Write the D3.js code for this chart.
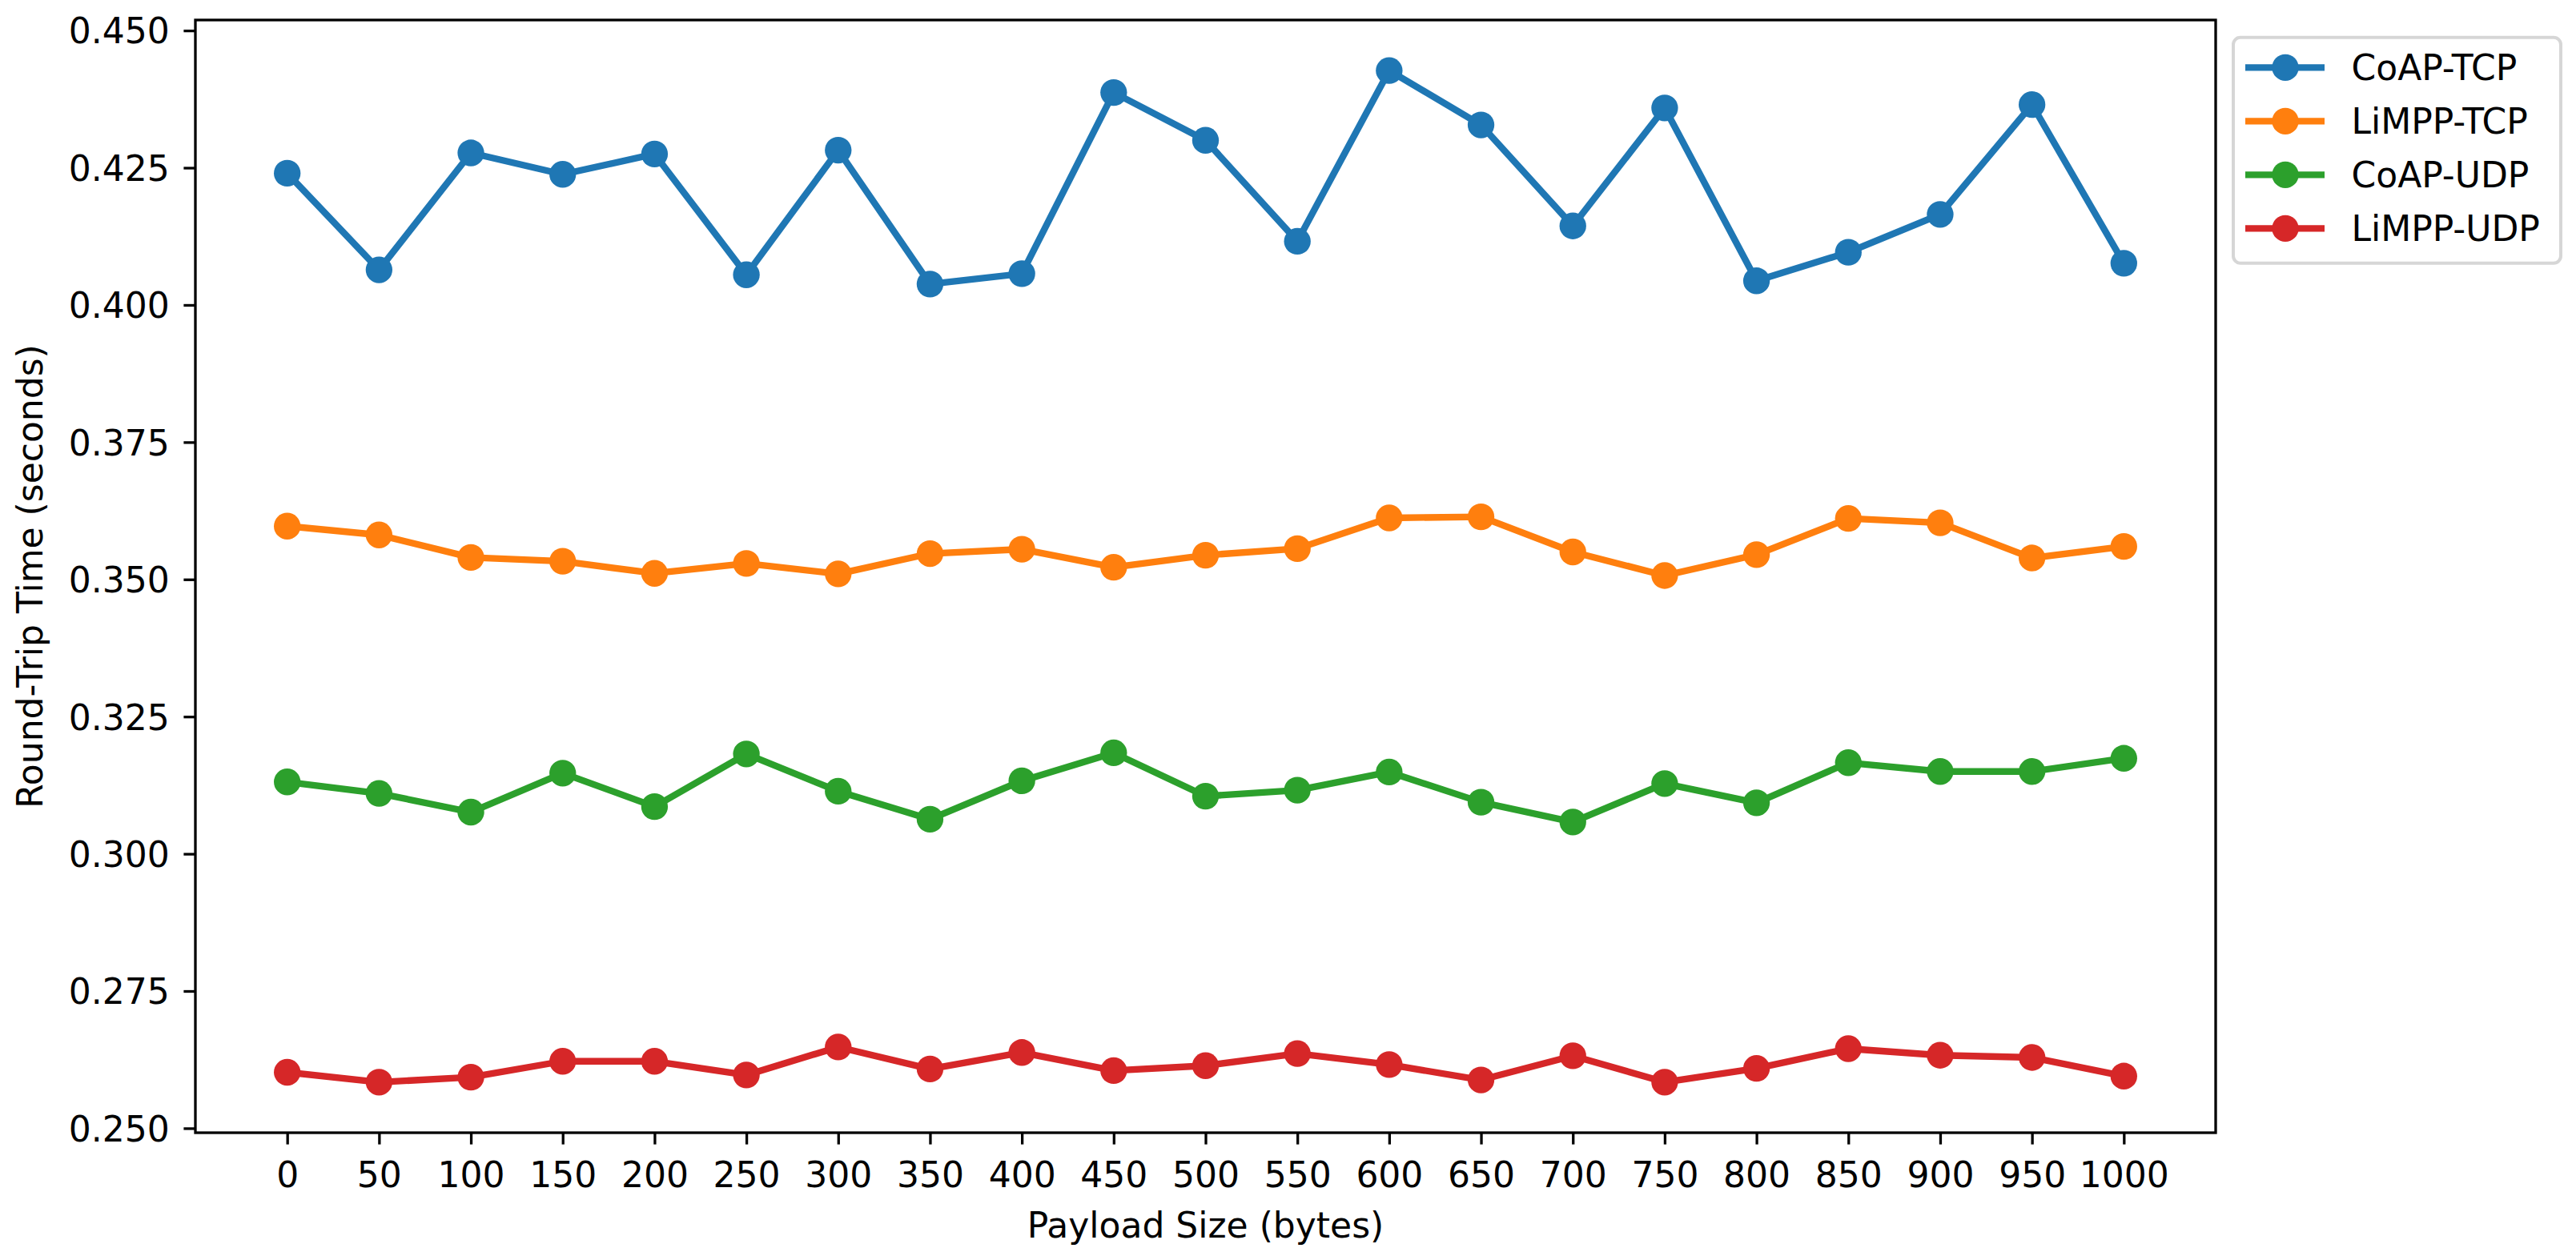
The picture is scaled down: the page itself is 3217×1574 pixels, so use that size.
<!DOCTYPE html>
<html>
<head>
<meta charset="utf-8">
<script src="https://cdn.jsdelivr.net/npm/d3@7/dist/d3.min.js"></script>
<style>
  html, body { margin: 0; padding: 0; background: #ffffff; }
  svg { display: block; }
  text { font-family: "DejaVu Sans", sans-serif; fill: #000; }
</style>
</head>
<body>
<script>
// ---------------- data ----------------
const payloadSizes = [0, 50, 100, 150, 200, 250, 300, 350, 400, 450, 500, 550, 600, 650, 700, 750, 800, 850, 900, 950, 1000];
const seriesNames = ["CoAP-TCP", "LiMPP-TCP", "CoAP-UDP", "LiMPP-UDP"];
const coapTcp  = [0.4240, 0.4064, 0.4277, 0.4238, 0.4275, 0.4055, 0.4282, 0.4038, 0.4057, 0.4387, 0.4300, 0.4116, 0.4427, 0.4328, 0.4144, 0.4359, 0.4044, 0.4096, 0.4165, 0.4365, 0.4076];
const limppTcp = [0.3597, 0.3581, 0.3540, 0.3533, 0.3511, 0.3529, 0.3510, 0.3547, 0.3555, 0.3522, 0.3544, 0.3556, 0.3612, 0.3614, 0.3550, 0.3507, 0.3545, 0.3611, 0.3603, 0.3539, 0.3560];
const coapUdp  = [0.3131, 0.3110, 0.3076, 0.3147, 0.3086, 0.3182, 0.3114, 0.3063, 0.3133, 0.3184, 0.3105, 0.3116, 0.3149, 0.3094, 0.3058, 0.3128, 0.3093, 0.3166, 0.3150, 0.3150, 0.3174];
const limppUdp = [0.2602, 0.2584, 0.2593, 0.2622, 0.2622, 0.2597, 0.2648, 0.2608, 0.2638, 0.2605, 0.2614, 0.2636, 0.2616, 0.2588, 0.2632, 0.2584, 0.2609, 0.2645, 0.2633, 0.2629, 0.2595];
const seriesValues = [coapTcp, limppTcp, coapUdp, limppUdp];
const seriesColors = ["#1f77b4", "#ff7f0e", "#2ca02c", "#d62728"];
const xTickLabels = payloadSizes.map(String);
const yTickValues = [0.250, 0.275, 0.300, 0.325, 0.350, 0.375, 0.400, 0.425, 0.450];
const xAxisTitle = "Payload Size (bytes)";
const yAxisTitle = "Round-Trip Time (seconds)";

// ---------------- layout ----------------
const W = 3217, H = 1574;
const plot = { left: 244, top: 25, right: 2767, bottom: 1415 };
const FS = 44;
const tickLen = 14.6, tickPad = 14.6, spineW = 3.3;

const svg = d3.select("body").append("svg").attr("width", W).attr("height", H);
svg.append("rect").attr("width", W).attr("height", H).attr("fill", "#fff");

// matplotlib-like 5% margins
const allVals = seriesValues.flat();
const yMin = d3.min(allVals), yMax = d3.max(allVals);
const yPad = (yMax - yMin) * 0.05;
const xMin = d3.min(payloadSizes), xMax = d3.max(payloadSizes);
const xPad = (xMax - xMin) * 0.05;

const x = d3.scaleLinear().domain([xMin - xPad, xMax + xPad]).range([plot.left, plot.right]);
const y = d3.scaleLinear().domain([yMin - yPad, yMax + yPad]).range([plot.bottom, plot.top]);

// ---------------- series ----------------
const line = d3.line().x((d, i) => x(payloadSizes[i])).y(d => y(d));
const gData = svg.append("g");
seriesValues.forEach((vals, si) => {
  const g = gData.append("g");
  g.append("path").datum(vals).attr("d", line)
    .attr("fill", "none").attr("stroke", seriesColors[si]).attr("stroke-width", 8.33)
    .attr("stroke-linejoin", "round").attr("stroke-linecap", "square");
  g.selectAll("circle").data(vals).enter().append("circle")
    .attr("cx", (d, i) => x(payloadSizes[i])).attr("cy", d => y(d))
    .attr("r", 16.67).attr("fill", seriesColors[si]);
});

// ---------------- axes ----------------
const xAxis = d3.axisBottom(x).tickValues(payloadSizes).tickFormat((d, i) => xTickLabels[i])
  .tickSizeInner(tickLen).tickSizeOuter(0).tickPadding(tickPad);
const gx = svg.append("g").attr("transform", `translate(0,${plot.bottom})`).call(xAxis);
gx.select(".domain").remove();
gx.selectAll(".tick line").attr("stroke", "#000").attr("stroke-width", spineW);
gx.selectAll(".tick text").attr("font-size", FS).attr("dy", null).attr("y", 68)
  .attr("font-family", "DejaVu Sans");

const yAxis = d3.axisLeft(y).tickValues(yTickValues).tickFormat(d3.format(".3f"))
  .tickSizeInner(tickLen).tickSizeOuter(0).tickPadding(tickPad + 3);
const gy = svg.append("g").attr("transform", `translate(${plot.left},0)`).call(yAxis);
gy.select(".domain").remove();
gy.selectAll(".tick line").attr("stroke", "#000").attr("stroke-width", spineW);
gy.selectAll(".tick text").attr("font-size", FS).attr("dy", "0.36em")
  .attr("font-family", "DejaVu Sans");

// spines
svg.append("rect").attr("x", plot.left).attr("y", plot.top)
  .attr("width", plot.right - plot.left).attr("height", plot.bottom - plot.top)
  .attr("fill", "none").attr("stroke", "#000").attr("stroke-width", spineW);

// axis titles
svg.append("text").attr("x", (plot.left + plot.right) / 2).attr("y", 1546)
  .attr("text-anchor", "middle").attr("font-size", FS).text(xAxisTitle);
svg.append("text").attr("transform", `translate(53,${(plot.top + plot.bottom) / 2}) rotate(-90)`)
  .attr("text-anchor", "middle").attr("font-size", FS).text(yAxisTitle);

// ---------------- legend ----------------
const lg = svg.append("g").attr("transform", `translate(${plot.right + 22},46.7)`);
lg.append("rect").attr("x", 0).attr("y", 0).attr("width", 409).attr("height", 282)
  .attr("rx", 9).attr("ry", 9).attr("fill", "#fff").attr("stroke", "#d6d6d6").attr("stroke-width", 4);
seriesNames.forEach((name, i) => {
  const cy = 37.6 + i * 67;
  lg.append("line").attr("x1", 15).attr("x2", 114).attr("y1", cy).attr("y2", cy)
    .attr("stroke", seriesColors[i]).attr("stroke-width", 8.33);
  lg.append("circle").attr("cx", 65).attr("cy", cy).attr("r", 16.67).attr("fill", seriesColors[i]);
  lg.append("text").attr("x", 147.5).attr("y", cy).attr("dy", "0.36em")
    .attr("font-size", FS).text(name);
});
</script>
</body>
</html>
